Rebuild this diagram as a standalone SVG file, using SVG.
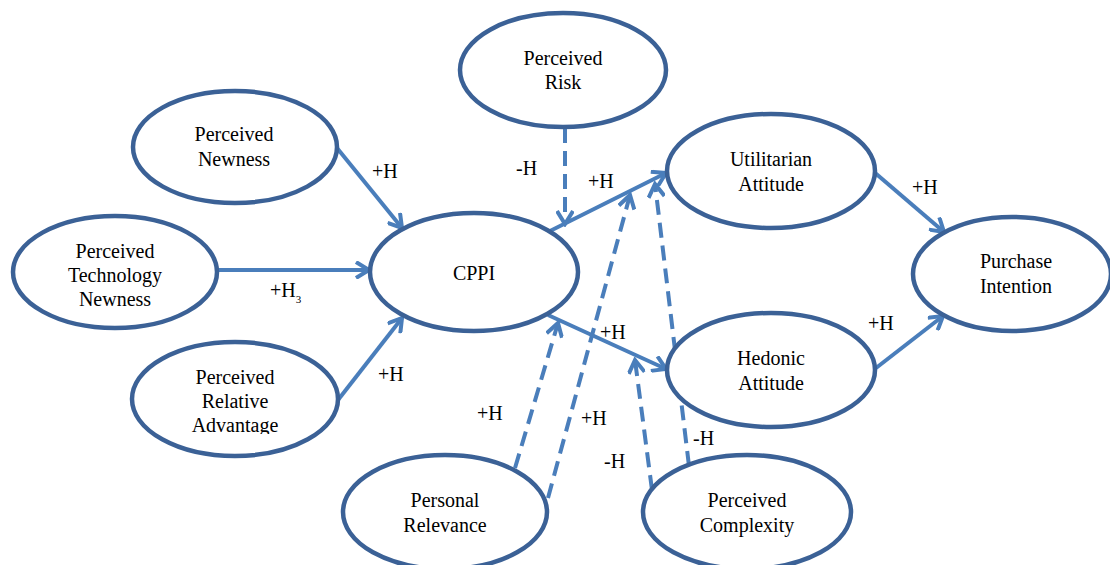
<svg xmlns="http://www.w3.org/2000/svg" width="1110" height="565" viewBox="0 0 1110 565">
<style>
.node ellipse{fill:#fff;stroke:#3b6196;stroke-width:4.5}
.node text{font-size:20px;fill:#000;text-anchor:middle}
.lbl{font-size:20px;fill:#000}
.sub{font-size:11px}
.c{stroke:#4a7ebb;stroke-width:4;fill:none;marker-end:url(#ah)}
.d{stroke-dasharray:15 8}
</style>
<defs>
<marker id="ah" markerUnits="userSpaceOnUse" viewBox="0 0 18 18" markerWidth="18" markerHeight="18" refX="15" refY="9" orient="auto">
<path d="M2,1 L15,9 L2,17" fill="none" stroke="#4a7ebb" stroke-width="4" stroke-linejoin="miter" stroke-dasharray="none"/>
</marker>
<clipPath id="clipAdv"><rect x="130" y="340" width="210" height="94"/></clipPath>
</defs>
<rect width="1110" height="565" fill="#fff"/>
<g id="connectors">
<line class="c" x1="337" y1="148" x2="402" y2="228"/>
<line class="c" x1="218" y1="270" x2="369" y2="270"/>
<line class="c" x1="338" y1="400" x2="402" y2="318"/>
<line class="c d" x1="565" y1="128" x2="565" y2="224"/>
<line class="c" x1="548" y1="232" x2="666" y2="173"/>
<line class="c" x1="548" y1="315" x2="666" y2="369"/>
<line class="c" x1="874" y1="172" x2="944" y2="232"/>
<line class="c" x1="876" y1="368" x2="943" y2="316"/>
<line class="c d" x1="515" y1="468" x2="558" y2="323"/>
<line class="c d" x1="548" y1="498" x2="630" y2="195"/>
<line class="c d" x1="652" y1="490" x2="635" y2="360"/>
<line class="c d" x1="689" y1="466" x2="655" y2="184"/>
</g>
<g id="labels" font-family="'Liberation Serif'">
<text class="lbl" x="372" y="178">+H</text>
<text class="lbl" x="516" y="175">-H</text>
<text class="lbl" x="588" y="188">+H</text>
<text class="lbl" x="270" y="297">+H<tspan class="sub" dy="6">3</tspan></text>
<text class="lbl" x="378" y="381">+H</text>
<text class="lbl" x="600" y="339">+H</text>
<text class="lbl" x="477" y="420">+H</text>
<text class="lbl" x="581" y="425">+H</text>
<text class="lbl" x="604" y="468">-H</text>
<text class="lbl" x="693" y="445">-H</text>
<text class="lbl" x="912" y="194">+H</text>
<text class="lbl" x="868" y="330">+H</text>
</g>
<g id="nodes" font-family="'Liberation Serif'">
<g id="perceived-risk" class="node">
<ellipse cx="563" cy="70" rx="103" ry="57"/>
<text x="563" y="65">Perceived</text>
<text x="563" y="89">Risk</text>
</g>
<g id="perceived-newness" class="node">
<ellipse cx="235" cy="147" rx="102" ry="56"/>
<text x="234" y="141">Perceived</text>
<text x="234" y="166">Newness</text>
</g>
<g id="perceived-technology-newness" class="node">
<ellipse cx="115" cy="272" rx="102" ry="56"/>
<text x="115" y="258">Perceived</text>
<text x="115" y="282">Technology</text>
<text x="115" y="306">Newness</text>
</g>
<g id="perceived-relative-advantage" class="node">
<ellipse cx="235" cy="399" rx="103" ry="57"/>
<g clip-path="url(#clipAdv)">
<text x="235" y="384">Perceived</text>
<text x="235" y="408">Relative</text>
<text x="235" y="432">Advantage</text>
</g>
</g>
<g id="cppi" class="node">
<ellipse cx="474" cy="272" rx="104" ry="59"/>
<text x="474" y="280">CPPI</text>
</g>
<g id="utilitarian-attitude" class="node">
<ellipse cx="771" cy="171" rx="104" ry="57"/>
<text x="771" y="166">Utilitarian</text>
<text x="771" y="191">Attitude</text>
</g>
<g id="hedonic-attitude" class="node">
<ellipse cx="771" cy="370" rx="104" ry="57"/>
<text x="771" y="365">Hedonic</text>
<text x="771" y="390">Attitude</text>
</g>
<g id="purchase-intention" class="node">
<ellipse cx="1012" cy="274" rx="99" ry="57"/>
<text x="1016" y="268">Purchase</text>
<text x="1016" y="293">Intention</text>
</g>
<g id="personal-relevance" class="node">
<ellipse cx="445" cy="512" rx="102" ry="57"/>
<text x="445" y="507">Personal</text>
<text x="445" y="532">Relevance</text>
</g>
<g id="perceived-complexity" class="node">
<ellipse cx="747" cy="512" rx="104" ry="57"/>
<text x="747" y="507">Perceived</text>
<text x="747" y="532">Complexity</text>
</g>
</g>
</svg>
